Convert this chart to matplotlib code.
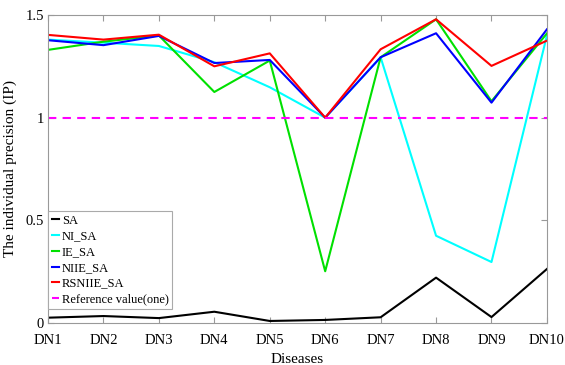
import numpy as np
import matplotlib.pyplot as plt

plt.rcParams['font.family'] = ['Liberation Serif', 'DejaVu Serif']

diseases = ["DN1", "DN2", "DN3", "DN4", "DN5", "DN6", "DN7", "DN8", "DN9", "DN10"]
sa = [0.026, 0.034, 0.024, 0.055, 0.010, 0.015, 0.028, 0.221, 0.029, 0.263]
ni_sa = [1.38, 1.365, 1.349, 1.27, 1.148, 1.0, 1.294, 0.425, 0.297, 1.40]
ie_sa = [1.33, 1.37, 1.40, 1.125, 1.278, 0.252, 1.294, 1.479, 1.08, 1.41]
niie_sa = [1.377, 1.353, 1.398, 1.266, 1.281, 1.0, 1.294, 1.411, 1.073, 1.43]
rsniie_sa = [1.403, 1.38, 1.404, 1.25, 1.313, 1.0, 1.333, 1.479, 1.252, 1.375]
reference = 1.0

x = np.arange(1, len(diseases) + 1)

fig = plt.figure(figsize=(5.65, 3.65), dpi=100)
ax = fig.add_axes([0.085, 0.115, 0.883, 0.844])

ax.plot(x, sa, color="black", lw=1.5, label="SA")
ax.plot(x, ni_sa, color="cyan", lw=1.5, label="NI_SA")
ax.plot(x, ie_sa, color="#00e000", lw=1.5, label="IE_SA")
ax.plot(x, niie_sa, color="blue", lw=1.5, label="NIIE_SA")
ax.plot(x, rsniie_sa, color="red", lw=1.5, label="RSNIIE_SA")
ax.plot(x, [reference] * len(x), color="magenta", lw=1.5, ls=(0, (4, 3)),
        label="Reference value(one)")

ax.set_xlim(1, 10)
ax.set_ylim(0, 1.5)
ax.set_xticks(x)
ax.set_xticklabels(diseases)
ax.set_yticks([0, 0.5, 1, 1.5])
ax.set_yticklabels(["0", "0.5", "1", "1.5"])
ax.tick_params(direction="in", top=True, right=True, labelsize=10.5,
               color="#999999", length=4)
ax.tick_params(axis="x", pad=8)
ax.tick_params(axis="y", pad=3)
for s in ax.spines.values():
    s.set_color("#999999")

ax.set_xlabel("Diseases", fontsize=11, labelpad=4)
ax.set_ylabel("The individual precision (IP)", fontsize=11, labelpad=6)

leg = ax.legend(loc="lower left", bbox_to_anchor=(0, 0.045), fontsize=9,
                handlelength=0.6, handletextpad=0.2, borderpad=0.3,
                labelspacing=0.3, fancybox=False, framealpha=1,
                borderaxespad=0)
leg.get_frame().set_edgecolor("#aaaaaa")
leg.get_frame().set_linewidth(0.8)

fig.savefig("out.png", dpi=100)
